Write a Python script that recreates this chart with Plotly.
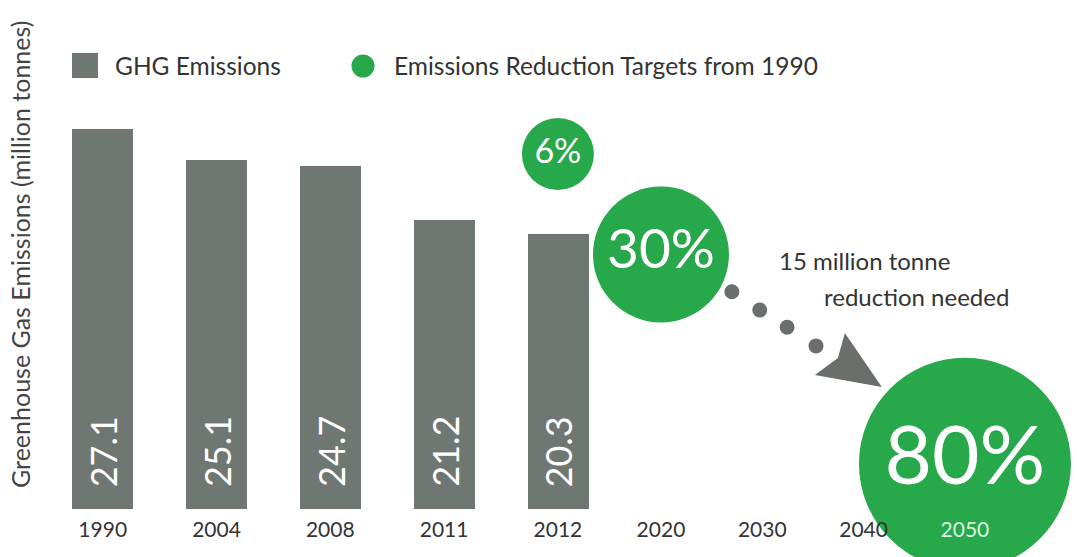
import plotly.graph_objects as go

# Historical greenhouse gas emissions (million tonnes)
hist_years = ["1990", "2004", "2008", "2011", "2012"]
emissions = [27.1, 25.1, 24.7, 21.2, 20.3]

# Reduction targets relative to 1990
target_years_hist = ["2012"]
target_pct_hist = [6]
future_years = ["2020", "2030", "2040", "2050"]
target_years_future = ["2020", "2050"]
target_pct_future = [30, 80]

BAR = "#6f7772"
GREEN = "#27a84a"
ARROW = "#6b6f6c"
TEXT = "#333333"
FONT = "Lato, 'Open Sans', sans-serif"

W, H = 1077, 557
BOTTOM = 48
PLOT_H = H - BOTTOM
Y_RANGE = [2.49, 35.45]

base = emissions[0]


def level(p):
    return base * (1 - p / 100.0)


def px_x(px):
    return px / W


def px_y(py):
    return (PLOT_H - py) / PLOT_H


fig = go.Figure()

fig.add_trace(go.Bar(
    x=hist_years, y=emissions, marker=dict(color=BAR, line=dict(width=0)),
    width=0.535, showlegend=False, hoverinfo="x+y",
))

fig.add_trace(go.Scatter(
    x=target_years_hist, y=[level(p) for p in target_pct_hist],
    mode="markers+text", text=[f"{p}%" for p in target_pct_hist],
    textposition="middle center",
    textfont=dict(color="white", size=34, family=FONT),
    marker=dict(color=GREEN, size=72, opacity=1, line=dict(width=0)),
    cliponaxis=False, showlegend=False,
))

fig.add_trace(go.Scatter(
    x=target_years_future, y=[level(p) for p in target_pct_future],
    xaxis="x2", yaxis="y",
    mode="markers+text", text=[f"{p}%" for p in target_pct_future],
    textposition="middle center",
    textfont=dict(color="white", size=[55, 82], family=FONT),
    marker=dict(color=GREEN, size=[136, 212], opacity=1, line=dict(width=0)),
    cliponaxis=False, showlegend=False,
))

# Value labels written up the bars
annotations = []
for i, v in enumerate(emissions):
    annotations.append(dict(
        x=i, y=3.78, xref="x", yref="y", text=f"{v}", textangle=-90,
        showarrow=False, yanchor="bottom", xanchor="center",
        font=dict(color="white", size=36, family=FONT),
    ))

# Axis title
annotations.append(dict(
    x=px_x(20), y=px_y(255), xref="paper", yref="paper",
    text="Greenhouse Gas Emissions (million tonnes)", textangle=-90,
    showarrow=False, xanchor="center", yanchor="middle",
    font=dict(color="#444444", size=25, family=FONT),
))

# Legend entries
annotations += [
    dict(x=px_x(113), y=px_y(66), xref="paper", yref="paper", text="GHG Emissions",
         xanchor="left", yanchor="middle", showarrow=False,
         font=dict(color=TEXT, size=24.5, family=FONT)),
    dict(x=px_x(392), y=px_y(66), xref="paper", yref="paper",
         text="Emissions Reduction Targets from 1990",
         xanchor="left", yanchor="middle", showarrow=False,
         font=dict(color=TEXT, size=24.5, family=FONT)),
]

# Note on the path to 2050
annotations += [
    dict(x=1.15, y=18.55, xref="x2", yref="y", text="15 million tonne",
         xanchor="left", yanchor="middle", showarrow=False,
         font=dict(color=TEXT, size=24, family=FONT)),
    dict(x=3.45, y=16.28, xref="x2", yref="y", text="reduction needed",
         xanchor="right", yanchor="middle", showarrow=False,
         font=dict(color=TEXT, size=24, family=FONT)),
]

shapes = [
    dict(type="rect", xref="paper", yref="paper",
         x0=px_x(72), x1=px_x(98), y0=px_y(78), y1=px_y(53),
         fillcolor=BAR, line=dict(width=0)),
    dict(type="circle", xref="paper", yref="paper",
         x0=px_x(351.5), x1=px_x(374.5), y0=px_y(77.5), y1=px_y(54.5),
         fillcolor=GREEN, line=dict(width=0)),
]

# Dotted arrow from the 2020 target towards 2050
dots = [(0.700, 16.56), (0.975, 15.38), (1.245, 14.26), (1.530, 13.05)]
for dx, dy in dots:
    shapes.append(dict(
        type="circle", xref="x2", yref="y", xsizemode="pixel", ysizemode="pixel",
        xanchor=dx, yanchor=dy, x0=-7.5, x1=7.5, y0=-7.5, y1=7.5,
        fillcolor=ARROW, line=dict(width=0),
    ))
shapes.append(dict(
    type="path", xref="x2", yref="y", xsizemode="pixel", ysizemode="pixel",
    xanchor=2.18, yanchor=10.39,
    path="M -37,54 L 0,0 L -67,12 L -44,29 Z",
    fillcolor=ARROW, line=dict(width=0),
))

tick_font = dict(color=TEXT, size=21, family=FONT)
future_ticktext = [y if y != "2050" else "<span style='color:#dff3e3'>2050</span>"
                   for y in future_years]

fig.update_layout(
    width=W, height=H,
    margin=dict(l=0, r=0, t=0, b=BOTTOM),
    paper_bgcolor="white", plot_bgcolor="white",
    font=dict(family=FONT, color=TEXT),
    xaxis=dict(
        domain=[45.8 / W, 614.8 / W], type="category",
        categoryorder="array", categoryarray=hist_years, range=[-0.5, 4.5],
        showgrid=False, zeroline=False, showline=False,
        ticks="outside", ticklen=2, tickcolor="rgba(0,0,0,0)",
        tickfont=tick_font, fixedrange=True,
    ),
    xaxis2=dict(
        domain=[610.3 / W, 1015.6 / W], type="category", anchor="y",
        categoryorder="array", categoryarray=future_years, range=[-0.5, 3.5],
        tickvals=future_years, ticktext=future_ticktext,
        showgrid=False, zeroline=False, showline=False,
        ticks="outside", ticklen=2, tickcolor="rgba(0,0,0,0)",
        tickfont=tick_font, fixedrange=True,
    ),
    yaxis=dict(
        range=Y_RANGE, showgrid=False, zeroline=False, showline=False,
        showticklabels=False, ticks="", fixedrange=True,
    ),
    annotations=annotations,
    shapes=shapes,
    bargap=0,
)

fig.write_html("out.html")
